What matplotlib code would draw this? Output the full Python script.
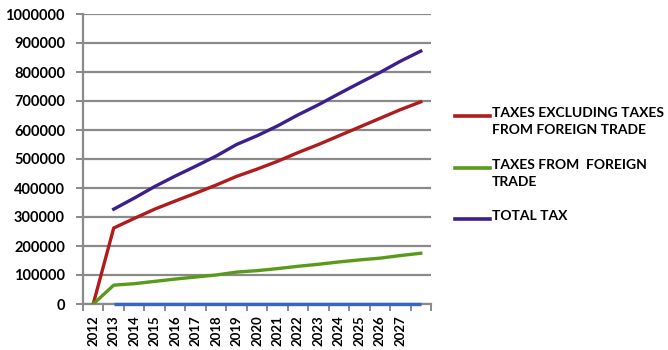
import matplotlib
matplotlib.use("Agg")
import matplotlib.pyplot as plt
from matplotlib.lines import Line2D
import numpy as np

# Fiscal projection, one value per year
years = ["2012", "2013", "2014", "2015", "2016", "2017", "2018", "2019",
         "2020", "2021", "2022", "2023", "2024", "2025", "2026", "2027", ""]

taxes_excl_foreign = [0, 262000, 295000, 327000, 355000, 382000, 410000, 440000,
                      465000, 492000, 522000, 550000, 580000, 610000, 640000,
                      670000, 697000]
taxes_foreign = [0, 65000, 70000, 78000, 86000, 93000, 100000, 110000,
                 115000, 122000, 130000, 137000, 145000, 152000, 158000,
                 167000, 175000]
total_tax = [np.nan, 327000, 365000, 405000, 441000, 475000, 510000, 550000,
             580000, 614000, 652000, 687000, 725000, 762000, 798000,
             837000, 872000]
baseline = [np.nan, 0, 0, 0, 0, 0, 0, 0, 0, 0, 0, 0, 0, 0, 0, 0, 0]

series_labels = ["TAXES EXCLUDING TAXES\nFROM FOREIGN TRADE",
                 "TAXES FROM  FOREIGN\nTRADE",
                 "TOTAL TAX"]
series_colors = ["#b01c1c", "#5a9a1a", "#3c1f8c"]

plt.rcParams['font.family'] = ['Lato', 'DejaVu Sans']
grey = "#8a8a8a"
W, H = 668, 350

fig = plt.figure(figsize=(W / 100, H / 100), dpi=100)
ax = fig.add_axes([83 / W, 46 / H, 348 / W, 290 / H])

x = np.arange(len(years))
ax.plot(x, baseline, color="#3566c4", lw=2.4, solid_capstyle="butt",
        zorder=4, clip_on=False)
for vals, col in zip([taxes_excl_foreign, taxes_foreign, total_tax], series_colors):
    ax.plot(x, vals, color=col, lw=2.4, zorder=3)

ax.set_xlim(-0.5, len(years) - 0.5)
ax.set_ylim(0, 1000000)
ax.set_yticks(np.arange(0, 1000001, 100000))
ax.set_yticklabels([str(v) for v in range(0, 1000001, 100000)],
                   fontsize=10.5, fontweight="bold")
ax.yaxis.grid(True, color=grey, lw=1.6)
ax.set_axisbelow(True)

# category labels sit between the boundary tick marks
ax.set_xticks(x)
ax.set_xticklabels(years, rotation=90, fontsize=9.5, fontweight="bold")
ax.set_xticks(np.arange(-0.5, len(years)), minor=True)
ax.tick_params(axis="x", which="major", length=0, pad=8)
ax.tick_params(axis="x", which="minor", length=5, width=1.4, color=grey)
ax.tick_params(axis="y", length=5, width=1.4, color=grey, pad=8)

for side in ["top", "right"]:
    ax.spines[side].set_visible(False)
for side in ["left", "bottom"]:
    ax.spines[side].set_color(grey)
    ax.spines[side].set_linewidth(1.6)

# legend entries placed by hand, pixel rows from the top
legend_rows = [116, 168, 219]
for label, col, row in zip(series_labels, series_colors, legend_rows):
    yf = 1 - row / H
    fig.add_artist(Line2D([455 / W, 490 / W], [yf, yf], color=col, lw=2.6,
                          transform=fig.transFigure))
    fig.text(492 / W, 1 - (row - 9) / H, label, ha="left", va="top",
             fontsize=10, fontweight="bold", linespacing=1.55)

fig.savefig("out.png", dpi=100)
